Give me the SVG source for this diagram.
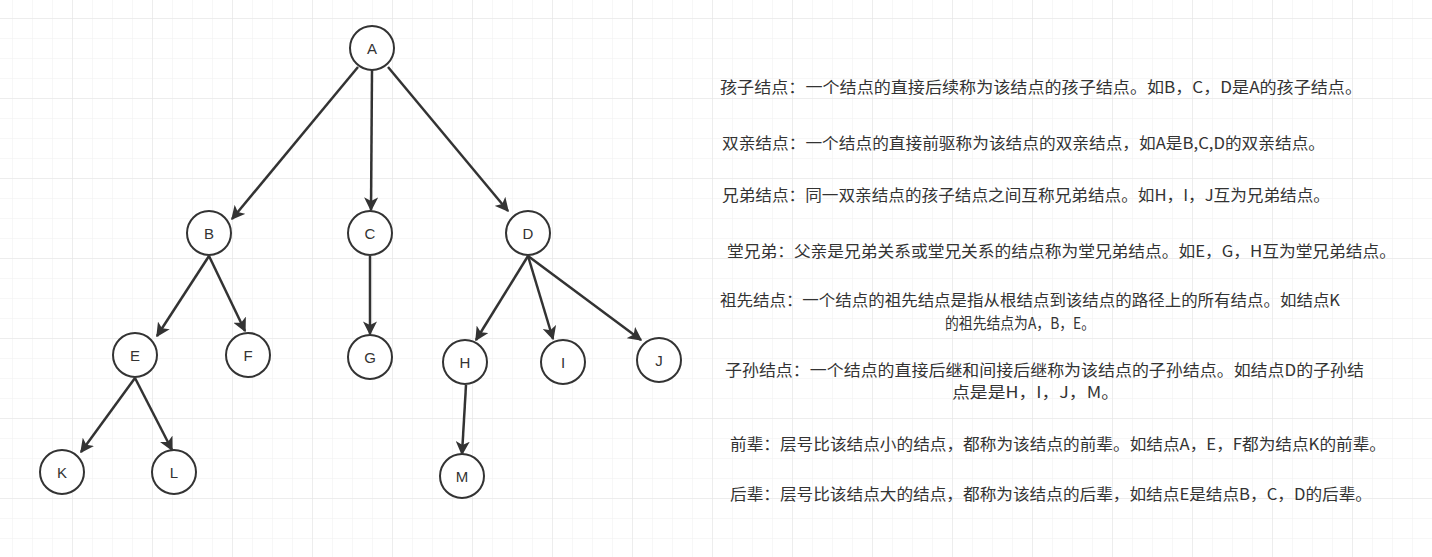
<svg xmlns="http://www.w3.org/2000/svg" width="1432" height="557" viewBox="0 0 1432 557">
<defs>
<pattern id="minor" x="12" y="18" width="20" height="20" patternUnits="userSpaceOnUse"><path d="M0 0H20M0 0V20" fill="none" stroke="#f0f0f0" stroke-width="1"/></pattern>
<pattern id="major" x="72" y="18" width="80" height="80" patternUnits="userSpaceOnUse"><path d="M0 0H80M0 0V80" fill="none" stroke="#e3e3e3" stroke-width="1"/></pattern>
<marker id="arrow" viewBox="0 0 10 10" refX="9" refY="5" markerWidth="14" markerHeight="14" markerUnits="userSpaceOnUse" orient="auto"><path d="M0 0L10 5L0 10L2.5 5Z" fill="#333"/></marker>
</defs>
<style>
.n circle{fill:#fff;stroke:#333;stroke-width:2}
.n text{font-family:"Liberation Sans",Arial,sans-serif;font-size:15px;fill:#333;text-anchor:middle;dominant-baseline:central}
#edges line{stroke:#333;stroke-width:2.5;marker-end:url(#arrow)}
.t{font-family:"Noto Sans CJK SC",sans-serif;font-size:15.5px;fill:#333;lengthAdjust:spacingAndGlyphs}
</style>
<rect width="1432" height="557" fill="#fff"/>
<rect width="1432" height="557" fill="url(#minor)"/>
<rect width="1432" height="557" fill="url(#major)"/>
<g id="edges">
<line x1="358" y1="67" x2="232" y2="219"/>
<line x1="372" y1="70" x2="371" y2="210"/>
<line x1="388" y1="67" x2="508" y2="211"/>
<line x1="209" y1="256" x2="157" y2="336"/>
<line x1="209" y1="256" x2="245" y2="331"/>
<line x1="370" y1="256" x2="370" y2="334"/>
<line x1="528" y1="256" x2="476" y2="340"/>
<line x1="528" y1="256" x2="553" y2="339"/>
<line x1="528" y1="256" x2="641" y2="340"/>
<line x1="135" y1="378" x2="81" y2="452"/>
<line x1="135" y1="378" x2="172" y2="450"/>
<line x1="466" y1="385" x2="462" y2="454"/>
</g>
<g id="A" class="n"><circle cx="372" cy="48" r="22"/><text x="372" y="48">A</text></g>
<g id="B" class="n"><circle cx="209" cy="233" r="22"/><text x="209" y="233">B</text></g>
<g id="C" class="n"><circle cx="370" cy="233" r="22"/><text x="370" y="233">C</text></g>
<g id="D" class="n"><circle cx="528" cy="233" r="22"/><text x="528" y="233">D</text></g>
<g id="E" class="n"><circle cx="135" cy="355" r="22"/><text x="135" y="355">E</text></g>
<g id="F" class="n"><circle cx="248" cy="355" r="22"/><text x="248" y="355">F</text></g>
<g id="G" class="n"><circle cx="370" cy="357" r="22"/><text x="370" y="357">G</text></g>
<g id="H" class="n"><circle cx="465" cy="362" r="22"/><text x="465" y="362">H</text></g>
<g id="I" class="n"><circle cx="563" cy="362" r="22"/><text x="563" y="362">I</text></g>
<g id="J" class="n"><circle cx="659" cy="360" r="22"/><text x="659" y="360">J</text></g>
<g id="K" class="n"><circle cx="62" cy="472" r="22"/><text x="62" y="472">K</text></g>
<g id="L" class="n"><circle cx="174" cy="472" r="22"/><text x="174" y="472">L</text></g>
<g id="M" class="n"><circle cx="462" cy="476" r="22"/><text x="462" y="476">M</text></g>
<g id="notes">
<text class="t" x="720" y="93" textLength="642" lengthAdjust="spacingAndGlyphs">孩子结点：一个结点的直接后续称为该结点的孩子结点。如B，C，D是A的孩子结点。</text>
<text class="t" x="722" y="149" textLength="603" lengthAdjust="spacingAndGlyphs">双亲结点：一个结点的直接前驱称为该结点的双亲结点，如A是B,C,D的双亲结点。</text>
<text class="t" x="722" y="201" textLength="608" lengthAdjust="spacingAndGlyphs">兄弟结点：同一双亲结点的孩子结点之间互称兄弟结点。如H，I，J互为兄弟结点。</text>
<text class="t" x="727" y="257" textLength="669" lengthAdjust="spacingAndGlyphs">堂兄弟：父亲是兄弟关系或堂兄关系的结点称为堂兄弟结点。如E，G，H互为堂兄弟结点。</text>
<text class="t" x="720" y="306" textLength="620" lengthAdjust="spacingAndGlyphs">祖先结点：一个结点的祖先结点是指从根结点到该结点的路径上的所有结点。如结点K</text>
<text class="t" x="945" y="329" textLength="150" lengthAdjust="spacingAndGlyphs">的祖先结点为A，B，E。</text>
<text class="t" x="725" y="376" textLength="639" lengthAdjust="spacingAndGlyphs">子孙结点：一个结点的直接后继和间接后继称为该结点的子孙结点。如结点D的子孙结</text>
<text class="t" x="952" y="398" textLength="167" lengthAdjust="spacingAndGlyphs">点是是H，I，J，M。</text>
<text class="t" x="730" y="450" textLength="656" lengthAdjust="spacingAndGlyphs">前辈：层号比该结点小的结点，都称为该结点的前辈。如结点A，E，F都为结点K的前辈。</text>
<text class="t" x="730" y="500" textLength="642" lengthAdjust="spacingAndGlyphs">后辈：层号比该结点大的结点，都称为该结点的后辈，如结点E是结点B，C，D的后辈。</text>
</g>
</svg>
